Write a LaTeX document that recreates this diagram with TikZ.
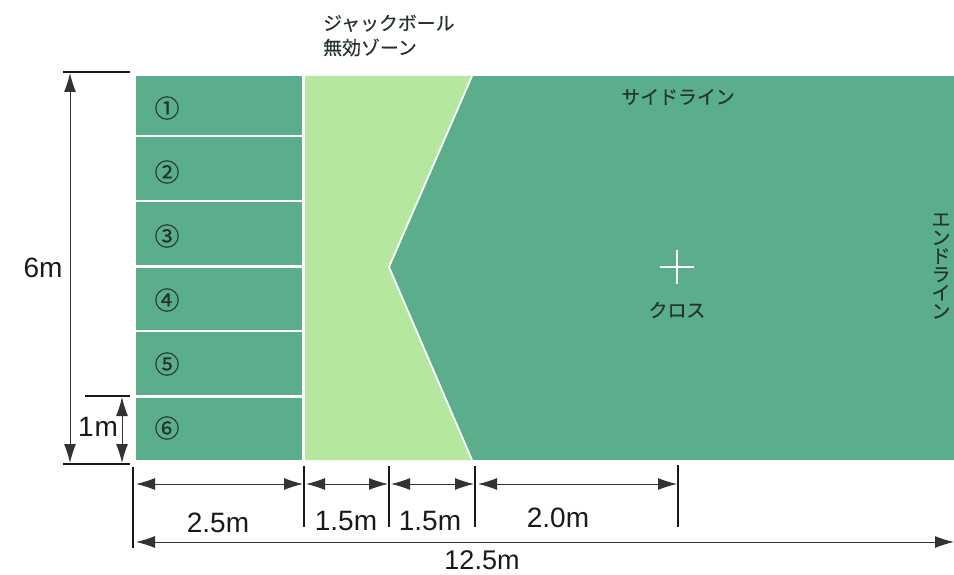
\documentclass[tikz,border=0pt]{standalone}
\usepackage{fontspec}
\setmainfont{Liberation Sans}
\newfontfamily\cjk[FakeBold=0.25]{Noto Sans CJK JP}
\newfontfamily\cjknum[FakeBold=0.5]{Noto Sans CJK JP}
\usetikzlibrary{arrows.meta}
\definecolor{fieldgreen}{HTML}{5BAE8C}
\definecolor{zonegreen}{HTML}{B5E89E}
\definecolor{inkdark}{HTML}{26332E}
\tikzset{
  x=1pt,y=-1pt,
  whiteline/.style={draw=white,line width=2.2pt},
  tick/.style={draw=black!90,line width=1.9pt},
  dim/.style={draw=black!80,line width=1.0pt,{Latex[length=19pt,width=12pt]}-{Latex[length=19pt,width=12pt]}},
  measure/.style={font=\fontsize{28}{30}\selectfont,inner sep=0pt,text=black!90},
  jp/.style={font=\cjk\fontsize{18.9}{24.5}\selectfont,inner sep=0pt,text=inkdark,align=left},
  num/.style={font=\cjknum\fontsize{25}{26}\selectfont,inner sep=0pt,text=inkdark},
}
\begin{document}
\begin{tikzpicture}
\useasboundingbox (0,0) rectangle (954,575);
% field
\fill[fieldgreen] (136,76) rectangle (954,460);
\fill[zonegreen] (303.5,76) -- (472,76) -- (389,267) -- (472,460) -- (303.5,460) -- cycle;
\draw[draw=white,line width=1.8pt] (472,76) -- (389,267) -- (472,460);
\draw[whiteline] (303.5,76) -- (303.5,460);
\foreach \yy in {136,201,266.5,331,396.5}
  \draw[whiteline] (136,\yy) -- (303.5,\yy);
% cross
\draw[draw=white,line width=2pt] (660,267) -- (694,267) (677,250) -- (677,284);
% lane numbers
\node[num] (n1) at (167,108) {①};
\node[num] (n2) at (167,172) {②};
\node[num] (n3) at (167,236) {③};
\node[num] (n4) at (167,300) {④};
\node[num] (n5) at (167,364) {⑤};
\node[num] (n6) at (167,428) {⑥};
% labels
\node[jp,anchor=north west] (zone) at (323,14.5) {ジャックボール\\無効ゾーン};
\node[jp] (side) at (678,97) {サイドライン};
\node[jp] (crossL) at (677,310) {クロス};
\node[jp,align=center,font=\cjk\fontsize{18.9}{18.4}\selectfont] (endl) at (941,266) {エ\\ン\\ド\\ラ\\イ\\ン};
% left dimensions
\coordinate (t6a) at (63,72); \coordinate (t6b) at (130,72);
\coordinate (b6a) at (63,464); \coordinate (b6b) at (130,464);
\coordinate (t1a) at (85,396); \coordinate (t1b) at (130,396);
\draw[tick] (t6a) -- (t6b);
\draw[tick] (b6a) -- (b6b);
\draw[tick] (t1a) -- (t1b);
\coordinate (a6t) at (70,73); \coordinate (a6b) at (70,463);
\draw[dim] (a6t) -- (a6b);
\coordinate (a1t) at (122,397); \coordinate (a1b) at (122,463);
\draw[dim] (a1t) -- (a1b);
\node[measure] (m6) at (43,268) {6m};
\node[measure] (m1) at (98,427) {1\kern1pt m};
% bottom ticks
\coordinate (v0a) at (133,467); \coordinate (v0b) at (133,548);
\coordinate (v1a) at (304,466); \coordinate (v1b) at (304,527);
\coordinate (v2a) at (389,466); \coordinate (v2b) at (389,527);
\coordinate (v3a) at (475,466); \coordinate (v3b) at (475,527);
\coordinate (v4a) at (678,465); \coordinate (v4b) at (678,527);
\foreach \p in {0,1,2,3,4} \draw[tick] (v\p a) -- (v\p b);
% horizontal dimensions
\coordinate (h0) at (136,484); \coordinate (h1l) at (303,484); \coordinate (h1r) at (306,484);
\coordinate (h2l) at (388,484); \coordinate (h2r) at (391,484);
\coordinate (h3l) at (474,484); \coordinate (h3r) at (478,484); \coordinate (h4) at (677,484);
\draw[dim] (h0) -- (h1l);
\draw[dim] (h1r) -- (h2l);
\draw[dim] (h2r) -- (h3l);
\draw[dim] (h3r) -- (h4);
\coordinate (l0) at (136,542); \coordinate (l1) at (954,542);
\draw[dim] (l0) -- (l1);
\node[measure] (d1) at (218,523) {2.5m};
\node[measure] (d2) at (346,521) {1.5m};
\node[measure] (d3) at (430,521) {1.5m};
\node[measure] (d4) at (558,518) {2.0m};
\node[measure,font=\fontsize{27}{29}\selectfont] (d5) at (482,560) {12.5m};
\end{tikzpicture}
\end{document}
